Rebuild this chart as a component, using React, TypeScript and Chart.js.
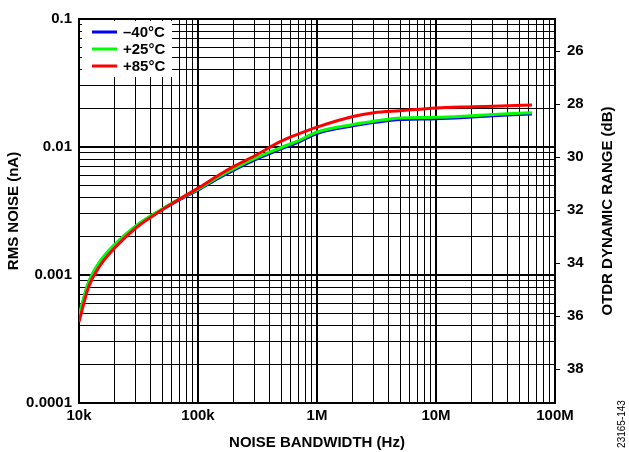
import { useEffect, useRef } from "react";
import { Chart, registerables } from "chart.js";

Chart.register(...registerables);

const FONT = "'Liberation Sans', Arial, Helvetica, sans-serif";

// Noise bandwidth (Hz)
const bandwidthHz = [1e4, 1.2e4, 1.5e4, 2e4, 3e4, 5e4, 7e4, 1e5, 1.5e5, 2e5, 3e5, 5e5, 7e5, 1e6, 2e6, 3e6, 5e6, 1e7, 2e7, 4e7, 6.4e7];
// RMS noise (nA)
const noiseMinus40 = [0.000475, 0.00086, 0.00126, 0.00172, 0.0024, 0.00325, 0.00388, 0.00462, 0.00574, 0.0066, 0.00792, 0.00965, 0.01092, 0.01275, 0.01462, 0.0155, 0.0164, 0.01665, 0.01715, 0.01775, 0.0181];
const noisePlus25 = [0.000487, 0.000873, 0.001276, 0.00174, 0.00242, 0.00328, 0.00393, 0.00469, 0.00586, 0.00676, 0.00813, 0.00991, 0.01122, 0.0131, 0.015, 0.0159, 0.01686, 0.01706, 0.01757, 0.0182, 0.01854];
const noisePlus85 = [0.00043, 0.0008, 0.00118, 0.00163, 0.00233, 0.00323, 0.00392, 0.00477, 0.00604, 0.00705, 0.00855, 0.0111, 0.01265, 0.0143, 0.0173, 0.0185, 0.0192, 0.0202, 0.0206, 0.021, 0.0213];

const seriesLabels = ["\u201340°C", "+25°C", "+85°C"];
const seriesColors = ["#0000ff", "#00ff00", "#ff0000"];
const seriesOrder = [2, 1, 0]; // red drawn on top, blue at the bottom

const xTickLabels: Record<string, string> = { "4": "10k", "5": "100k", "6": "1M", "7": "10M", "8": "100M" };
const yTickLabels: Record<string, string> = { "-4": "0.0001", "-3": "0.001", "-2": "0.01", "-1": "0.1" };
const dbTicks = [26, 28, 30, 32, 34, 36, 38];
const dbMin = 24.79;
const dbMax = 39.28;

const xTitle = "NOISE BANDWIDTH (Hz)";
const yTitle = "RMS NOISE (nA)";
const y2Title = "OTDR DYNAMIC RANGE (dB)";
const figureId = "23165-143";

function logTicks(minExp: number, maxExp: number) {
  const out: { value: number }[] = [];
  for (let e = minExp; e < maxExp; e++) {
    for (let m = 1; m <= 9; m++) out.push({ value: parseFloat((m * Math.pow(10, e)).toPrecision(6)) });
  }
  out.push({ value: parseFloat(Math.pow(10, maxExp).toPrecision(6)) });
  return out;
}

function isDecade(v: number) {
  const l = Math.log10(v);
  return Math.abs(l - Math.round(l)) < 1e-6;
}

function decadeLabel(map: Record<string, string>, v: any) {
  const n = Number(v);
  if (!isDecade(n)) return "";
  return map[String(Math.round(Math.log10(n)))] || "";
}

const legendPlugin = {
  id: "insideLegend",
  afterDraw(chart: any) {
    const { ctx, chartArea } = chart;
    const x0 = chartArea.left + 3;
    const y0 = chartArea.top + 2;
    ctx.save();
    ctx.fillStyle = "#ffffff";
    ctx.fillRect(x0, y0, 90, 56);
    chart.data.datasets.forEach((ds: any, i: number) => {
      const y = y0 + 11 + i * 17;
      ctx.strokeStyle = ds.borderColor;
      ctx.lineWidth = 3;
      ctx.beginPath();
      ctx.moveTo(x0 + 10, y);
      ctx.lineTo(x0 + 35, y);
      ctx.stroke();
      ctx.fillStyle = "#000";
      ctx.font = `bold 15px ${FONT}`;
      ctx.textBaseline = "middle";
      ctx.textAlign = "left";
      ctx.fillText(ds.label, x0 + 41, y + 1);
    });
    ctx.restore();
  },
};

const sideTextPlugin = {
  id: "sideText",
  afterDraw(chart: any) {
    const { ctx, chartArea } = chart;
    ctx.save();
    ctx.fillStyle = "#000";
    ctx.textAlign = "center";
    ctx.textBaseline = "middle";
    ctx.translate(608, (chartArea.top + chartArea.bottom) / 2);
    ctx.rotate(-Math.PI / 2);
    ctx.font = `bold 15px ${FONT}`;
    ctx.fillText(y2Title, 0, 0);
    ctx.restore();
    ctx.save();
    ctx.fillStyle = "#000";
    ctx.textAlign = "center";
    ctx.textBaseline = "middle";
    ctx.translate(622.5, 424);
    ctx.rotate(-Math.PI / 2);
    ctx.font = `10px ${FONT}`;
    ctx.fillText(figureId, 0, 0);
    ctx.restore();
  },
};

export default function App() {
  const ref = useRef<HTMLCanvasElement>(null);
  useEffect(() => {
    if (!ref.current) return;
    const series = [noiseMinus40, noisePlus25, noisePlus85];
    const chart = new Chart(ref.current, {
      type: "line",
      data: {
        datasets: series.map((s, i) => ({
          label: seriesLabels[i],
          data: bandwidthHz.map((x, j) => ({ x, y: s[j] })),
          borderColor: seriesColors[i],
          backgroundColor: seriesColors[i],
          borderWidth: 3,
          pointRadius: 0,
          order: seriesOrder[i],
          cubicInterpolationMode: "monotone" as const,
          yAxisID: "y",
        })),
      },
      options: {
        animation: false,
        responsive: false,
        maintainAspectRatio: false,
        layout: { padding: { top: 19, left: 0, right: 0, bottom: 0 } },
        plugins: { legend: { display: false }, tooltip: { enabled: false } },
        scales: {
          x: {
            type: "logarithmic",
            position: "bottom",
            min: 1e4,
            max: 1e8,
            afterBuildTicks: (s: any) => { s.ticks = logTicks(4, 8); },
            afterFit: (s: any) => { s.height = 49; },
            ticks: {
              autoSkip: false,
              maxRotation: 0,
              padding: 4,
              color: "#000",
              font: { family: FONT, size: 15, weight: "bold" },
              callback: (v: any) => decadeLabel(xTickLabels, v),
            },
            grid: {
              color: "#000",
              lineWidth: (c: any) => (c.tick && isDecade(c.tick.value) ? 2 : 1),
              drawTicks: false,
            },
            border: { display: true, color: "#000", width: 2 },
            title: {
              display: true,
              text: xTitle,
              color: "#000",
              font: { family: FONT, size: 15, weight: "bold" },
              padding: { top: 0, bottom: 0 },
            },
          },
          y: {
            type: "logarithmic",
            position: "left",
            min: 1e-4,
            max: 0.1,
            afterBuildTicks: (s: any) => { s.ticks = logTicks(-4, -1); },
            afterFit: (s: any) => { s.width = 79; },
            ticks: {
              autoSkip: false,
              padding: 7,
              color: "#000",
              font: { family: FONT, size: 15, weight: "bold" },
              callback: (v: any) => decadeLabel(yTickLabels, v),
            },
            grid: {
              color: "#000",
              lineWidth: (c: any) => (c.tick && isDecade(c.tick.value) ? 2 : 1),
              drawTicks: false,
            },
            border: { display: true, color: "#000", width: 2 },
            title: {
              display: true,
              text: yTitle,
              color: "#000",
              font: { family: FONT, size: 15, weight: "bold" },
              padding: { top: 5, bottom: 0 },
            },
          },
          y2: {
            type: "linear",
            position: "right",
            reverse: true,
            min: dbMin,
            max: dbMax,
            afterBuildTicks: (s: any) => { s.ticks = dbTicks.map((value) => ({ value })); },
            afterFit: (s: any) => { s.width = 74; },
            ticks: {
              autoSkip: false,
              padding: 7,
              color: "#000",
              font: { family: FONT, size: 15, weight: "bold" },
              callback: (v: any) => String(v),
            },
            grid: {
              drawOnChartArea: false,
              drawTicks: true,
              tickLength: 5,
              tickColor: "#000",
              tickWidth: 1,
            },
            border: { display: true, color: "#000", width: 2 },
          },
        },
      },
      plugins: [legendPlugin, sideTextPlugin],
    } as any);
    return () => chart.destroy();
  }, []);
  return (
    <div style={{ position: "fixed", left: 0, top: 0, width: 629, height: 452, background: "#fff" }}>
      <canvas ref={ref} width={629} height={452} style={{ width: 629, height: 452, display: "block" }} />
    </div>
  );
}
